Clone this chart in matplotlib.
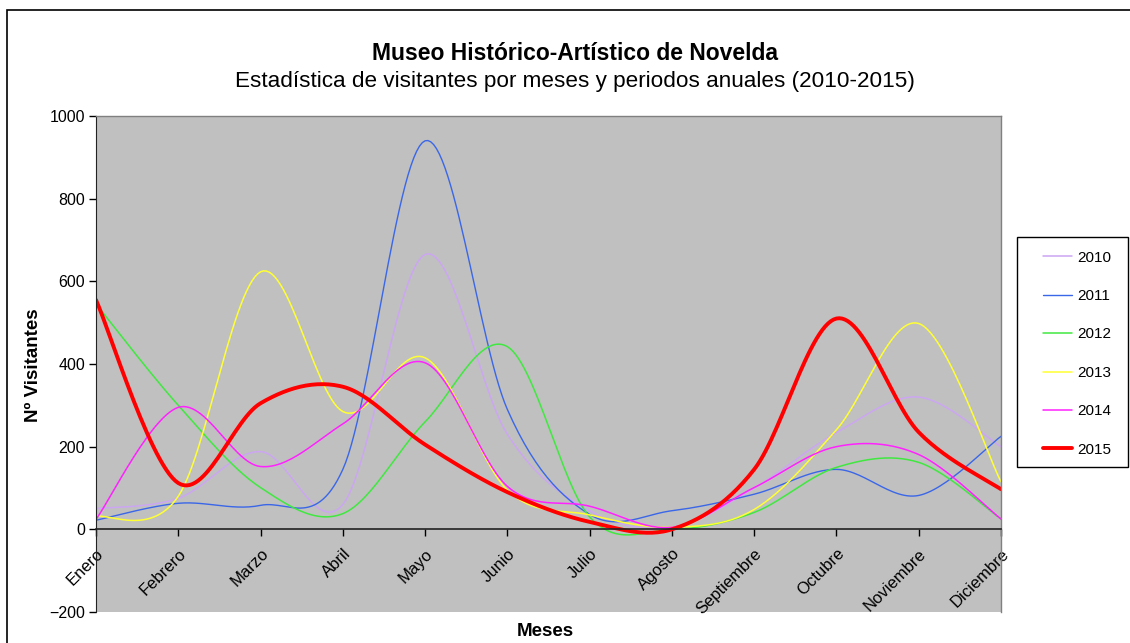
import numpy as np
import matplotlib
matplotlib.use("Agg")
import matplotlib.pyplot as plt

plt.rcParams['font.family'] = ['Liberation Sans', 'DejaVu Sans']

months = ["Enero", "Febrero", "Marzo", "Abril", "Mayo", "Junio", "Julio",
          "Agosto", "Septiembre", "Octubre", "Noviembre", "Diciembre"]
years = ["2010", "2011", "2012", "2013", "2014", "2015"]

v2010 = [50, 75, 188, 60, 665, 230, 45, 5, 100, 234, 320, 200]
v2011 = [22, 63, 58, 145, 940, 290, 36, 45, 85, 145, 82, 225]
v2012 = [545, 300, 101, 38, 260, 442, 30, 0, 41, 150, 162, 25]
v2013 = [31, 80, 623, 285, 415, 95, 35, 5, 48, 241, 498, 115]
v2014 = [24, 295, 152, 255, 403, 104, 56, 5, 101, 200, 181, 25]
v2015 = [555, 112, 305, 345, 205, 90, 18, 0, 145, 510, 235, 97]

series = [v2010, v2011, v2012, v2013, v2014, v2015]
colors = ["#CCA6F2", "#3A66E8", "#40E840", "#FFFF33", "#FF22FF", "#FF0000"]
widths = [1.1, 1.0, 1.1, 1.1, 1.1, 2.8]


def smooth(y, n=30):
    """Excel-like smoothed line (Catmull-Rom / Bezier through the points)."""
    x = np.arange(len(y), dtype=float)
    y = np.asarray(y, dtype=float)
    px = np.concatenate([[x[0]], x, [x[-1]]])
    py = np.concatenate([[y[0]], y, [y[-1]]])
    xs, ys = [], []
    t = np.linspace(0, 1, n)
    for i in range(len(y) - 1):
        p0x, p1x, p2x, p3x = px[i], px[i + 1], px[i + 2], px[i + 3]
        p0y, p1y, p2y, p3y = py[i], py[i + 1], py[i + 2], py[i + 3]
        c1x = p1x + (p2x - p0x) / 6.0
        c1y = p1y + (p2y - p0y) / 6.0
        c2x = p2x - (p3x - p1x) / 6.0
        c2y = p2y - (p3y - p1y) / 6.0
        bx = ((1 - t) ** 3) * p1x + 3 * ((1 - t) ** 2) * t * c1x + 3 * (1 - t) * t ** 2 * c2x + t ** 3 * p2x
        by = ((1 - t) ** 3) * p1y + 3 * ((1 - t) ** 2) * t * c1y + 3 * (1 - t) * t ** 2 * c2y + t ** 3 * p2y
        xs.append(bx)
        ys.append(by)
    return np.concatenate(xs), np.concatenate(ys)


W, H = 1130, 643
fig = plt.figure(figsize=(W / 100, H / 100), dpi=100)
fig.patch.set_facecolor("white")

# outer chart border
fig.add_artist(plt.Rectangle((7 / W, -0.05), 1.2, 1 - 10 / H + 0.05, transform=fig.transFigure,
                             fill=False, edgecolor="black", linewidth=1.2))

ax = fig.add_axes([96 / W, 1 - 612 / H, (1001 - 96) / W, (612 - 116) / H])
ax.set_facecolor("#C0C0C0")
ax.spines["bottom"].set_position(("data", 0))

handles = []
for vals, c, lw, lab in zip(series, colors, widths, years):
    sx, sy = smooth(vals)
    h, = ax.plot(sx, sy, color=c, linewidth=lw, label=lab, solid_capstyle="round")
    handles.append(h)

ax.set_xlim(0, len(months) - 1)
ax.set_ylim(-200, 1000)
ax.set_yticks(np.arange(-200, 1001, 200))
ax.set_xticks(np.arange(len(months)))
ax.set_xticklabels(months, rotation=45, ha="right", va="top", rotation_mode="anchor", fontsize=12)
ax.tick_params(axis="y", labelsize=11.5, length=5, direction="out", width=1, pad=3)
ax.tick_params(axis="x", length=5, direction="out", width=1, pad=7)

for s in ["top", "right"]:
    ax.spines[s].set_color("#808080")
    ax.spines[s].set_linewidth(1)
ax.spines["left"].set_color("#222222")
ax.spines["bottom"].set_color("#222222")
ax.spines["bottom"].set_linewidth(1.2)

fig.text(575 / W, 1 - 53 / H, "Museo Histórico-Artístico de Novelda", ha="center", va="center",
         fontsize=16.5, fontweight="bold")
fig.text(575 / W, 1 - 82 / H, "Estadística de visitantes por meses y periodos anuales (2010-2015)",
         ha="center", va="center", fontsize=16.2)
fig.text(33 / W, 1 - 365 / H, "Nº Visitantes", rotation=90, ha="center", va="center",
         fontsize=13.5, fontweight="bold")
fig.text(545 / W, 1 - 632 / H, "Meses", ha="center", va="center", fontsize=13.5, fontweight="bold")

# legend frame and entries
fig.add_artist(plt.Rectangle((1017 / W, 1 - 467 / H), (1128 - 1017) / W, (467 - 237) / H,
                             transform=fig.transFigure, fill=True, facecolor="white",
                             edgecolor="black", linewidth=1.0))
leg = fig.legend(handles=handles, loc="upper left", bbox_to_anchor=(1038 / W, 1 - 246 / H),
                 bbox_transform=fig.transFigure, frameon=False,
                 fontsize=11, handlelength=1.95, handletextpad=0.3, labelspacing=1.6,
                 borderpad=0.3, borderaxespad=0)

fig.savefig("out.png", dpi=100, facecolor="white")
